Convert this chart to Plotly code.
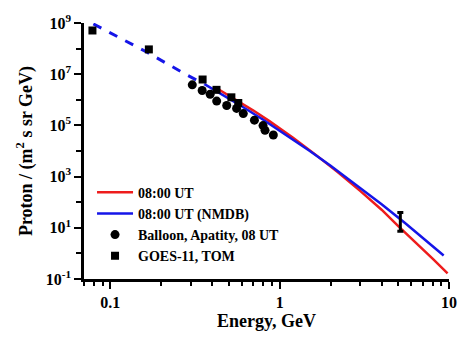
import plotly.graph_objects as go

# Blue model (NMDB): dashed extrapolation + solid part
blue_dash_E = [0.0795, 0.165, 0.275, 0.36]
blue_dash_F = [9.2e8, 7.2e7, 1.04e7, 4.08e6]
blue_E = [0.36, 0.45, 0.6, 0.8, 1.1, 1.5, 2.0, 3.0, 4.0, 5.5, 7.0, 9.3]
blue_F = [4.08e6, 1.73e6, 5.5e5, 1.67e5, 4.19e4, 1.03e4, 2.65e3, 362, 82.9, 15.3, 4.1, 0.83]

# Red model (08:00 UT)
red_E = [0.423, 0.55, 0.7, 0.866, 1.2, 1.6, 2.2, 3.0, 4.0, 5.0, 6.5, 8.0, 9.81]
red_F = [2.9e6, 1.04e6, 3.8e5, 1.5e5, 3.29e4, 7.9e3, 1.5e3, 271, 50.8, 12.0, 2.4, 0.62, 0.166]

# Balloon, Apatity
balloon_E = [0.305, 0.349, 0.389, 0.425, 0.487, 0.557, 0.610, 0.710, 0.798, 0.820, 0.918]
balloon_F = [3.85e6, 2.31e6, 1.65e6, 8.9e5, 6.0e5, 4.6e5, 2.9e5, 1.6e5, 9.8e4, 6.4e4, 4.2e4]

# GOES-11
goes_E = [0.0785, 0.169, 0.351, 0.424, 0.519, 0.570]
goes_F = [5.1e8, 9.3e7, 6.2e6, 2.45e6, 1.25e6, 7.5e5]

# Error bar point
err_E = [5.16]
err_F = [17.5]
err_plus = [22.3]
err_minus = [10.2]

y_tickvals = [1e-1, 1e1, 1e3, 1e5, 1e7, 1e9]
y_ticktext = ["10<sup>-1</sup>", "10<sup>1</sup>", "10<sup>3</sup>", "10<sup>5</sup>", "10<sup>7</sup>", "10<sup>9</sup>"]
x_tickvals = [0.1, 1, 10]
x_ticktext = ["0.1", "1", "10"]

FONT = "Liberation Serif"

fig = go.Figure()
fig.add_trace(go.Scatter(x=blue_dash_E, y=blue_dash_F, mode="lines",
                         line=dict(color="#1515e8", width=3, dash="dash"),
                         showlegend=False))
fig.add_trace(go.Scatter(x=red_E, y=red_F, mode="lines", name="08:00 UT",
                         line=dict(color="#ee1c1c", width=2.5)))
fig.add_trace(go.Scatter(x=blue_E, y=blue_F, mode="lines", name="08:00 UT (NMDB)",
                         line=dict(color="#1515e8", width=2.5)))
fig.add_trace(go.Scatter(x=balloon_E, y=balloon_F, mode="markers", name="Balloon, Apatity, 08 UT",
                         marker=dict(symbol="circle", size=9, color="black")))
fig.add_trace(go.Scatter(x=goes_E, y=goes_F, mode="markers", name="GOES-11, TOM",
                         marker=dict(symbol="square", size=8, color="black")))
fig.add_trace(go.Scatter(x=err_E, y=err_F, mode="markers", showlegend=False,
                         marker=dict(size=1, color="rgba(0,0,0,0)"),
                         error_y=dict(type="data", symmetric=False, array=err_plus,
                                      arrayminus=err_minus, color="black", thickness=3, width=3)))

axis_common = dict(type="log", showgrid=False, zeroline=False, showline=True,
                   linecolor="black", linewidth=2.5, ticks="outside", tickwidth=2,
                   tickcolor="black", ticklen=7,
                   tickfont=dict(family=FONT, size=16, color="black", weight="bold"))

fig.update_xaxes(**axis_common, range=[-1.155, 1.0], tickmode="array",
                 tickvals=x_tickvals, ticktext=x_ticktext,
                 minor=dict(ticks="outside", ticklen=4, tickwidth=2, tickcolor="black",
                            tickmode="array",
                            tickvals=[0.07, 0.08, 0.09, 0.2, 0.3, 0.4, 0.5, 0.6, 0.7, 0.8, 0.9,
                                      2, 3, 4, 5, 6, 7, 8, 9]),
                 title=dict(text="Energy, GeV", standoff=4,
                            font=dict(family=FONT, size=18, color="black", weight="bold")))
fig.update_yaxes(**axis_common, range=[-1, 9], tickmode="array",
                 tickvals=y_tickvals, ticktext=y_ticktext,
                 minor=dict(ticks="outside", ticklen=5, tickwidth=2, tickcolor="black",
                            tickmode="array", tickvals=[1, 1e2, 1e4, 1e6, 1e8]),
                 title=dict(text="Proton / (m<sup>2</sup> s sr GeV)", standoff=9,
                            font=dict(family=FONT, size=18, color="black", weight="bold")))

fig.update_layout(
    width=469, height=340,
    margin=dict(l=84, r=17, t=16, b=52),
    paper_bgcolor="white", plot_bgcolor="white",
    legend=dict(x=0.022, y=0.40, xanchor="left", yanchor="top",
                bgcolor="rgba(0,0,0,0)", tracegroupgap=0, itemwidth=36,
                font=dict(family=FONT, size=14, color="black", weight="bold")),
)

fig.write_html("out.html")
